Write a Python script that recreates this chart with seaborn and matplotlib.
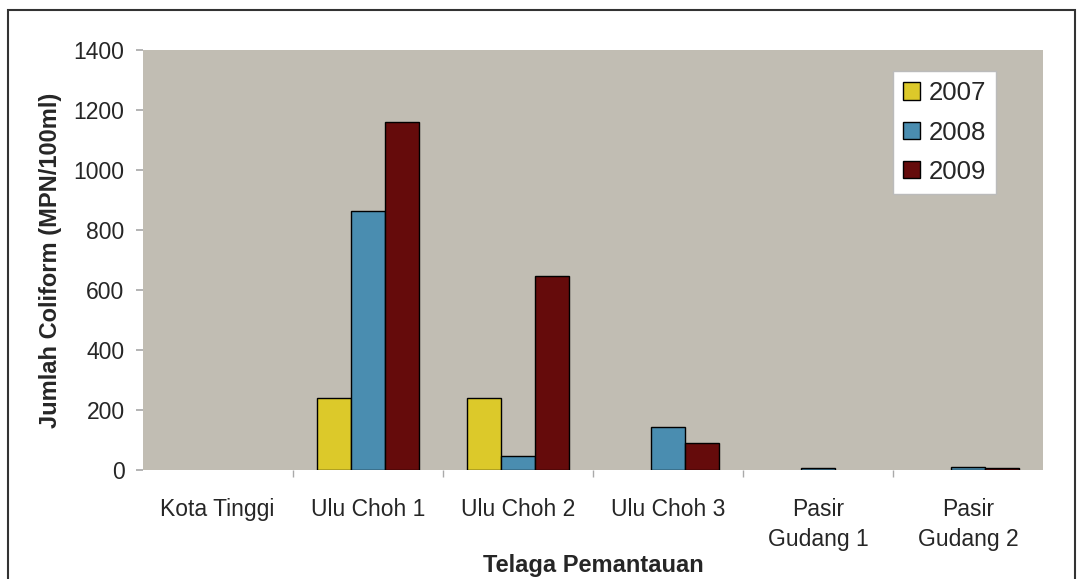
import pandas as pd
import matplotlib.pyplot as plt
import seaborn as sns

sns.set_theme(style="white")
plt.rcParams["font.family"] = ["Liberation Sans", "DejaVu Sans"]

# values
stations = ["Kota Tinggi", "Ulu Choh 1", "Ulu Choh 2", "Ulu Choh 3",
            "Pasir\nGudang 1", "Pasir\nGudang 2"]
years = ["2007", "2008", "2009"]
val_2007 = [0, 240, 240, 0, 0, 0]
val_2008 = [0, 863, 47, 143, 7, 12]
val_2009 = [0, 1160, 647, 90, 0, 8]
colors = ["#dcc92a", "#4a8db0", "#650b0b"]

df = pd.DataFrame({
    "station": stations * 3,
    "year": [y for y in years for _ in stations],
    "value": val_2007 + val_2008 + val_2009,
})

fig = plt.figure(figsize=(10.8, 5.79), dpi=100)
ax = fig.add_axes([0.132, 0.188, 0.834, 0.726])
fig.patches.append(plt.Rectangle((0.007, -0.01), 0.988, 0.993, transform=fig.transFigure,
                                 fill=False, edgecolor="#333333", linewidth=1.5))

sns.barplot(data=df, x="station", y="value", hue="year", palette=colors,
            width=0.68, edgecolor="black", linewidth=1.0, saturation=1, ax=ax)

ax.set_facecolor("#c1bdb3")
ax.set_ylim(0, 1400)
ax.set_yticks(range(0, 1401, 200))
ax.set_xlim(-0.5, 5.5)
ax.tick_params(axis="y", labelsize=16.5, length=5, color="#aaaaaa", left=True, pad=8)
ax.tick_params(axis="x", labelsize=16.5, length=0, pad=20)
for lbl in ax.get_xticklabels():
    lbl.set_linespacing(1.4)
# ticks between groups
ax.set_xticks([i + 0.5 for i in range(5)], minor=True)
ax.tick_params(axis="x", which="minor", length=5, color="#aaaaaa", bottom=True)
for s in ax.spines.values():
    s.set_visible(False)

ax.set_xlabel("Telaga Pemantauan", fontsize=17, fontweight="bold", va="center")
ax.xaxis.set_label_coords(0.5, -0.226)
ax.set_ylabel("Jumlah Coliform (MPN/100ml)", fontsize=17, fontweight="bold", labelpad=8)

leg = ax.legend(loc="upper right", bbox_to_anchor=(0.948, 0.95), fontsize=18.5,
                frameon=True, fancybox=False, handlelength=0.65, handleheight=0.65,
                handletextpad=0.35, labelspacing=0.6, borderpad=0.4, borderaxespad=0)
leg.get_frame().set_edgecolor("#bbbbbb")
leg.get_frame().set_facecolor("white")
leg.get_frame().set_alpha(1)
for h in leg.legend_handles:
    h.set_edgecolor("black")
    h.set_linewidth(1.0)

# no outline for empty bars
for bar in ax.patches:
    if bar.get_height() == 0:
        bar.set_linewidth(0)

fig.savefig("out.png", dpi=100, facecolor="white")
